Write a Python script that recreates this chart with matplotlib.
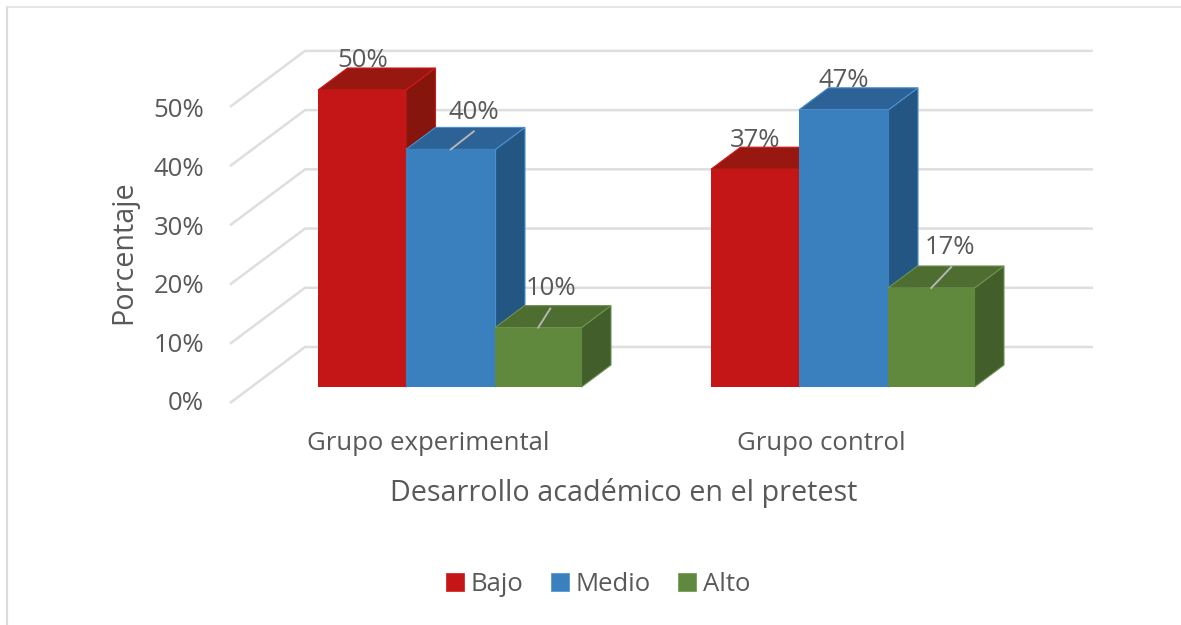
import matplotlib
matplotlib.use("Agg")
import matplotlib.pyplot as plt
from matplotlib.patches import Polygon, Rectangle

# ---- data ----
categories = ["Grupo experimental", "Grupo control"]
series_names = ["Bajo", "Medio", "Alto"]
bajo = [50, 36.67]
medio = [40, 46.67]
alto = [10, 16.67]
y_ticks = [0, 10, 20, 30, 40, 50]

# ---- style ----
W, H = 1181, 625
TEXT = "#595959"
FONT = "Open Sans"
front = ["#C41616", "#3B80BE", "#60893D"]
top = ["#981811", "#2D6296", "#4D6E30"]
side = ["#86150E", "#235682", "#415E2B"]
edge = ["#D01818", "#4A90D0", "#6E9350"]

plt.rcParams["font.family"] = [FONT, "DejaVu Sans"]
fig = plt.figure(figsize=(W / 100, H / 100), dpi=100)
ax = fig.add_axes([0, 0, 1, 1])

# axis calibration (pixel layout of the reference)
PX_X = 393.0          # pixels per category
PX_Y = 5.94           # pixels per percent
X0, Y0 = 449.5, 387.0  # pixel of category 0 / 0 %
ax.set_xlim(-X0 / PX_X, (W - X0) / PX_X)
ax.set_ylim((Y0 - H) / PX_Y, Y0 / PX_Y)
ax.axis("off")

def dx(px):
    return px / PX_X

def dy(px):
    return px / PX_Y

# outer frame
ax.plot([dx(7 - X0), dx(7 - X0)], [dy(Y0 - H), dy(Y0 - 7)], color="#DCDCDC", lw=1.6, zorder=1)
ax.plot([dx(7 - X0), dx(W - X0)], [dy(Y0 - 7), dy(Y0 - 7)], color="#E2E2E2", lw=1.2, zorder=1)

# walls: gridlines + floor-side diagonals
wall_left = dx(305 - X0)
wall_right = dx(1093 - X0)
floor_left = dx(230 - X0)
back_off = dy(40)
front_off = dy(-16)
for v in y_ticks:
    ax.plot([floor_left, wall_left, wall_right],
            [v * 0.997 + front_off, v * 0.997 + back_off, v * 0.997 + back_off],
            color="#DEDEDE", lw=1.8, zorder=1, solid_capstyle="butt", solid_joinstyle="miter")
    ax.text(dx(204 - X0), v * 0.987 + dy(-17), f"{v}%", ha="right", va="center",
            fontsize=18.5, color=TEXT, zorder=5)

# bars
widths = [dx(88), dx(89.5), dx(86.5)]
lefts = [dx(-131.5), dx(-43.5), dx(45.5)]
depth_x, depth_y = dx(29.5), dy(22)
all_vals = [bajo, medio, alto]

# data-label placement: (series, group) -> label offset and leader-line end, in pixels
label_pos = {(0, 0): (1, 29), (1, 0): (23, 37), (2, 0): (13, 39),
             (0, 1): (0, 29), (1, 1): (0, 29), (2, 1): (19, 40)}
leader_end = {(1, 0): (23, 18), (2, 0): (12, 19), (2, 1): (20, 21)}

for g in range(len(categories)):
    order = [0, 2, 1] if g == 1 else [0, 1, 2]
    for s in order:
        v = all_vals[s][g]
        x0 = g + lefts[s]
        x1 = x0 + widths[s]
        ax.add_patch(Polygon([(x1, 0), (x1 + depth_x, depth_y), (x1 + depth_x, v + depth_y), (x1, v)],
                             closed=True, fc=side[s], ec=edge[s], lw=0.8, zorder=3 + s * 0.1))
        ax.add_patch(Polygon([(x0, v), (x0 + depth_x, v + depth_y), (x1 + depth_x, v + depth_y), (x1, v)],
                             closed=True, fc=top[s], ec=edge[s], lw=0.8, zorder=3 + s * 0.1))
        ax.bar(x0, v, width=widths[s], align="edge", color=front[s], zorder=3.05 + s * 0.1)
    for s in range(3):
        v = all_vals[s][g]
        xm = g + lefts[s] + widths[s] / 2
        ox, oy = label_pos[(s, g)]
        if (s, g) in leader_end:
            ex, ey = leader_end[(s, g)]
            ax.plot([xm, xm + dx(ex)], [v, v + dy(ey)], color="#B5B5B5", lw=1.4, zorder=4)
            z = 5
        else:
            z = 2.5      # these labels sit behind the bar, which clips them
        ax.text(xm + dx(ox), v + dy(oy), f"{v:.0f}%", ha="center", va="center",
                fontsize=18.5, color=TEXT, zorder=z)

# category labels
for g, c in enumerate(categories):
    ax.text(g + dx(-21), dy(Y0 - 444), c, ha="center", va="center", fontsize=18.5, color=TEXT, zorder=5)

ax.text(dx(624 - X0), dy(Y0 - 493), "Desarrollo académico en el pretest", ha="center", va="center",
        fontsize=20.7, color=TEXT)
ax.text(dx(124 - X0), dy(Y0 - 252), "Porcentaje", rotation=90, ha="center", va="center",
        fontsize=20.7, color=TEXT)

# legend
leg_handles = [Rectangle((0, 0), 1, 1, fc=front[i], ec=edge[i], lw=0.5) for i in range(3)]
ax.legend(leg_handles, series_names, loc="center", bbox_to_anchor=(598 / W, 1 - 584.5 / H),
          bbox_transform=fig.transFigure, ncol=3, frameon=False, fontsize=18.5, labelcolor=TEXT,
          handlelength=0.7, handleheight=0.7, handletextpad=0.27, columnspacing=1.05)

fig.savefig("out.png", dpi=100)
